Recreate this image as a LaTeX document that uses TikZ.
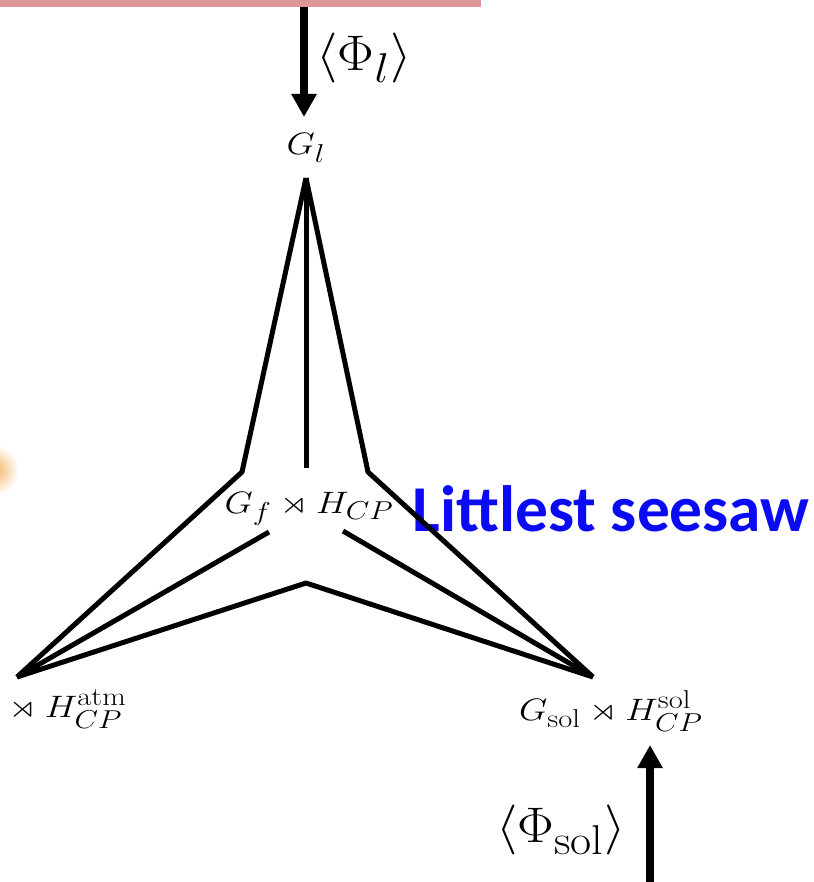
\documentclass[tikz,border=0pt]{standalone}
\usepackage{amssymb}
\usepackage{fontspec}
\newfontfamily\calibri{Carlito}
\usetikzlibrary{arrows.meta}
\definecolor{barpink}{RGB}{220,150,150}
\definecolor{blobor}{RGB}{242,178,100}
\definecolor{titleblue}{RGB}{10,10,245}
\tikzset{
  starline/.style={line width=5pt, line join=round},
  bigarrow/.style={line width=8pt, -{Triangle[width=24pt,length=23pt]}},
  lbl/.style={inner sep=0pt, font=\Huge, xscale=1.47, yscale=1.246},
  philbl/.style={inner sep=0pt, font=\Huge, xscale=2.21, yscale=2.01},
}
\begin{document}
\begin{tikzpicture}[x=1pt,y=-1pt]
\useasboundingbox (0,0) rectangle (813,882);
\clip (0,0) rectangle (813,882);
% background decorations
\fill[barpink] (0,0) rectangle (481,7.5);
\shade[inner color=blobor, outer color=white] (-6,470) circle (25);
% labels
\node[lbl] (Gl) at (306,148) {$G_l$};
\node[philbl] (phil) at (364,58) {$\langle\Phi_l\rangle$};
\node[philbl] (phisol) at (561,830) {$\langle\Phi_{\rm sol}\rangle$};
\node[lbl, anchor=base] (Gf) at (309,513) {$G_f\rtimes H_{CP}$};
\node[lbl, anchor=base] (Gsol) at (611,720) {$G_{\rm sol}\rtimes H^{\rm sol}_{CP}$};
\node[lbl, anchor=base west] (Gatm) at (0,717) {${}\rtimes H^{\rm atm}_{CP}$};
\node[inner sep=0pt, anchor=base, text=titleblue, font=\calibri\bfseries\Huge, scale=2.63] (title) at (611,531) {Littlest seesaw};
% star vertices
\coordinate (top) at (306,178);
\coordinate (lv) at (17,677);
\coordinate (rv) at (593,677);
\coordinate (lk) at (242,472);
\coordinate (rk) at (368,472);
\coordinate (cb) at (306,468);
\coordinate (il) at (269,532);
\coordinate (ir) at (343,531);
\coordinate (bm) at (306,583);
\draw[starline] (top) -- (cb);
\draw[starline] (top) -- (lk) -- (lv);
\draw[starline] (top) -- (rk) -- (rv);
\draw[starline] (il) -- (lv);
\draw[starline] (ir) -- (rv);
\draw[starline] (lv) -- (bm) -- (rv);
% arrows
\coordinate (barend) at (304,7.5);
\coordinate (tipl) at (304,117);
\draw[bigarrow] (barend) -- (tipl);
\coordinate (botend) at (650,882);
\coordinate (tips) at (650,745);
\draw[bigarrow] (botend) -- (tips);
\end{tikzpicture}
\end{document}
